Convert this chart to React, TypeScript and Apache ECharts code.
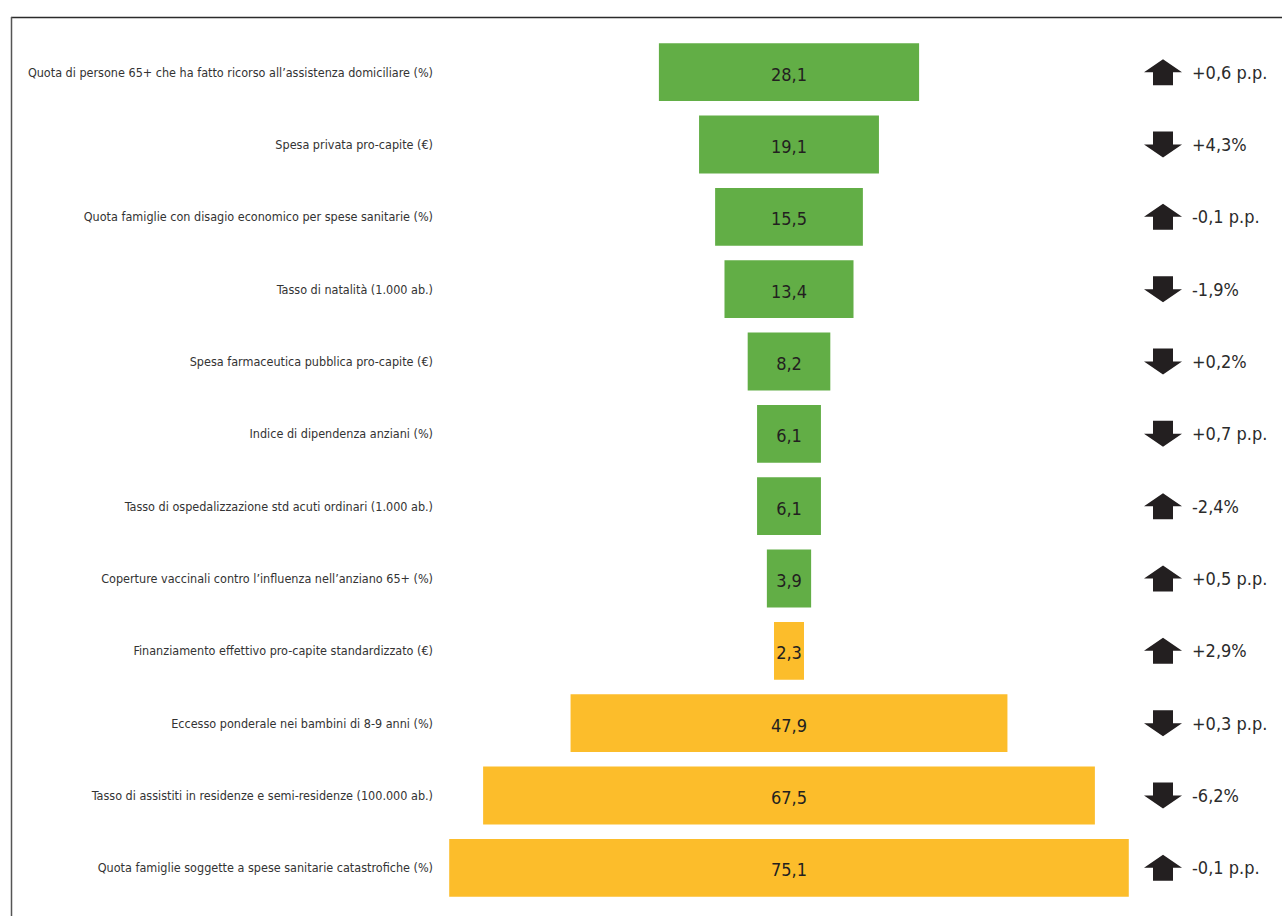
import React, { useEffect, useRef } from "react";
import * as echarts from "echarts";

const categories = [
  "Quota di persone 65+ che ha fatto ricorso all'assistenza domiciliare (%)",
  "Spesa privata pro-capite (€)",
  "Quota famiglie con disagio economico per spese sanitarie (%)",
  "Tasso di natalità (1.000 ab.)",
  "Spesa farmaceutica pubblica pro-capite (€)",
  "Indice di dipendenza anziani (%)",
  "Tasso di ospedalizzazione std acuti ordinari (1.000 ab.)",
  "Coperture vaccinali contro l'influenza nell'anziano 65+ (%)",
  "Finanziamento effettivo pro-capite standardizzato (€)",
  "Eccesso ponderale nei bambini di 8-9 anni (%)",
  "Tasso di assistiti in residenze e semi-residenze (100.000 ab.)",
  "Quota famiglie soggette a spese sanitarie catastrofiche (%)",
].map((s) => s.replace(/'/g, "\u2019"));

const values = [28.1, 19.1, 15.5, 13.4, 8.2, 6.1, 6.1, 3.9, 2.3, 47.9, 67.5, 75.1];
const groups = ["g", "g", "g", "g", "g", "g", "g", "g", "o", "o", "o", "o"];
const directions = ["up", "down", "up", "down", "down", "down", "up", "up", "up", "down", "down", "up"];
const changes = [
  "+0,6 p.p.", "+4,3%", "-0,1 p.p.", "-1,9%", "+0,2%", "+0,7 p.p.",
  "-2,4%", "+0,5 p.p.", "+2,9%", "+0,3 p.p.", "-6,2%", "-0,1 p.p.",
];

const AXIS_MAX = 78;
const PAD = 1.06;
const GREEN = "#62ae46";
const ORANGE = "#fcbd2b";
const FONT = "'Liberation Sans Narrow', 'DejaVu Sans Condensed', 'Roboto', sans-serif";

const UP = "path://M19,0 L38,13 L29,13 L29,26 L9,26 L9,13 L0,13 Z";
const DOWN = "path://M19,26 L38,13 L29,13 L29,0 L9,0 L9,13 L0,13 Z";

export default function App() {
  const ref = useRef<HTMLDivElement>(null);
  useEffect(() => {
    if (!ref.current) return;
    const chart = echarts.init(ref.current, null, { renderer: "svg" });
    const fmt = (v: number) => v.toFixed(1).replace(".", ",");
    chart.setOption({
      animation: false,
      textStyle: { fontFamily: FONT },
      grid: [
        { left: 441, width: 696, top: 36, height: 868 },
        { left: 1140, width: 142, top: 36, height: 868 },
      ],
      xAxis: [
        { type: "value", gridIndex: 0, min: 0, max: AXIS_MAX, show: false },
        { type: "value", gridIndex: 1, min: 0, max: 100, show: false },
      ],
      yAxis: [
        {
          type: "category",
          gridIndex: 0,
          data: categories,
          inverse: true,
          axisLine: { show: false },
          axisTick: { show: false },
          axisLabel: { fontFamily: FONT, fontSize: 12.5, color: "#333333", margin: 8 },
        },
        {
          type: "category",
          gridIndex: 1,
          data: categories,
          inverse: true,
          show: false,
        },
      ],
      series: [
        {
          type: "bar",
          stack: "f",
          xAxisIndex: 0,
          yAxisIndex: 0,
          barWidth: "80%",
          itemStyle: { color: "transparent" },
          silent: true,
          data: values.map((v) => (AXIS_MAX - (v + PAD)) / 2),
        },
        {
          type: "bar",
          stack: "f",
          xAxisIndex: 0,
          yAxisIndex: 0,
          barWidth: "80%",
          data: values.map((v, i) => ({
            value: v + PAD,
            itemStyle: { color: groups[i] === "g" ? GREEN : ORANGE },
          })),
          label: {
            show: true,
            position: "inside",
            offset: [0, 2],
            fontFamily: FONT,
            fontSize: 18,
            fontWeight: "normal",
            color: "#231f20",
            formatter: (p: any) => fmt(values[p.dataIndex]),
          },
        },
        {
          type: "scatter",
          xAxisIndex: 1,
          yAxisIndex: 1,
          data: directions.map((d, i) => ({
            value: [16.2, i],
            symbol: d === "up" ? UP : DOWN,
          })),
          symbolSize: [38, 26],
          itemStyle: { color: "#231f20", opacity: 1 },
          label: {
            show: true,
            position: "right",
            distance: 10,
            fontFamily: FONT,
            fontSize: 18,
            color: "#2b2b2b",
            formatter: (p: any) => changes[p.dataIndex],
          },
        },
      ],
      graphic: [
        {
          type: "line",
          shape: { x1: 11, y1: 17.5, x2: 1282, y2: 17.5 },
          style: { stroke: "#2b2b2b", lineWidth: 1.5 },
        },
        {
          type: "line",
          shape: { x1: 11.5, y1: 17, x2: 11.5, y2: 916 },
          style: { stroke: "#555555", lineWidth: 1.5 },
        },
      ],
    });
    return () => chart.dispose();
  }, []);
  return (
    <div
      ref={ref}
      style={{ position: "fixed", left: 0, top: 0, width: 1282, height: 916, background: "#fff" }}
    />
  );
}
